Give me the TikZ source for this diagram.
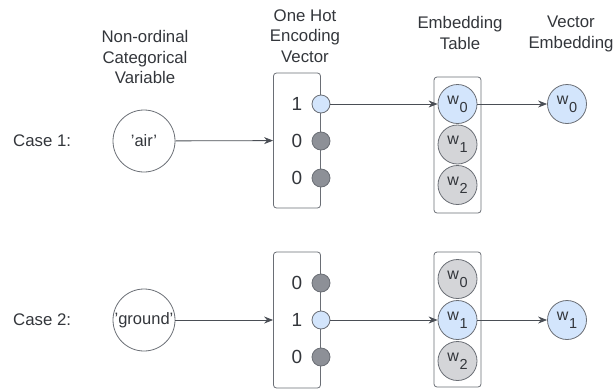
\documentclass[tikz,border=0pt]{standalone}
\usepackage{fontspec}
\setmainfont{Liberation Sans}
\usetikzlibrary{arrows.meta}
\definecolor{txt}{HTML}{33363B}
\definecolor{edge}{HTML}{6A6E75}
\definecolor{arr}{HTML}{4A4E55}
\definecolor{hot}{HTML}{D3E5FC}
\definecolor{dark}{HTML}{8D9097}
\definecolor{light}{HTML}{D4D5D8}
\newcommand\wsub[1]{w\kern0.5pt\raisebox{-8pt}{\fontsize{14.5}{14.5}\selectfont #1}}
\tikzset{
  lbl/.style={text=txt, font=\fontsize{16.8}{20.6}\selectfont, align=center, inner sep=0pt},
  catnode/.style={circle, draw=edge, line width=0.8pt, minimum size=62pt, inner sep=0pt, text=txt, font=\fontsize{16.5}{16.5}\selectfont},
  vecbox/.style={draw=edge, line width=0.8pt, rounded corners=3pt, minimum width=47pt, inner sep=0pt},
  hotdot/.style={circle, draw=edge, line width=0.8pt, minimum size=18pt, inner sep=0pt, fill=hot},
  colddot/.style={circle, draw=edge, line width=0.8pt, minimum size=18pt, inner sep=0pt, fill=dark},
  digit/.style={text=txt, font=\fontsize{19}{19}\selectfont, inner sep=0pt},
  wnode/.style={circle, draw=edge, line width=0.8pt, minimum size=39pt, inner sep=0pt, text=txt, font=\fontsize{16}{16}\selectfont},
  wsel/.style={wnode, fill=hot},
  wgray/.style={wnode, fill=light},
  conn/.style={draw=arr, line width=0.8pt, -{Stealth[length=9pt,width=7pt]}}
}
\begin{document}
\begin{tikzpicture}[x=1pt,y=-1pt]
\useasboundingbox (0,0) rectangle (613,389);
% headers
\node[lbl] (h1) at (145,57) {Non-ordinal\\Categorical\\Variable};
\node[lbl] (h2) at (305,36) {One Hot\\Encoding\\Vector};
\node[lbl] (h3) at (460,33) {Embedding\\Table};
\node[lbl] (h4) at (571,34) {Vector\\Embedding};
% case labels
\node[lbl, anchor=west] (c1) at (13,141) {Case 1:};
\node[lbl, anchor=west] (c2) at (13,320) {Case 2:};
% case 1
\node[catnode] (air) at (144,141) {'air'};
\node[vecbox, minimum height=135pt] (b1) at (297,140.5) {};
\node[hotdot] (b1a) at (321,104) {};
\node[colddot] (b1b) at (321,141) {};
\node[colddot] (b1c) at (321,178) {};
\node[digit] (d1a) at (297,104) {1};
\node[digit] (d1b) at (297,141) {0};
\node[digit] (d1c) at (297,178) {0};
\node[vecbox, minimum height=136pt] (e1) at (457.5,145) {};
\node[wsel] (e1a) at (457.5,104) {\wsub{0}};
\node[wgray] (e1b) at (457.5,144.5) {\wsub{1}};
\node[wgray] (e1c) at (457.5,185) {\wsub{2}};
\node[wsel] (v1) at (567,104) {\wsub{0}};
\draw[conn] (air) -- (b1);
\draw[conn] (b1a) -- (e1a);
\draw[conn] (e1a) -- (v1);
% case 2
\node[catnode] (ground) at (144,320) {'ground'};
\node[vecbox, minimum height=136pt] (b2) at (297,320) {};
\node[colddot] (b2a) at (321,283) {};
\node[hotdot] (b2b) at (321,320) {};
\node[colddot] (b2c) at (321,357) {};
\node[digit] (d2a) at (297,283) {0};
\node[digit] (d2b) at (297,320) {1};
\node[digit] (d2c) at (297,357) {0};
\node[vecbox, minimum height=135pt] (e2) at (457.5,319.5) {};
\node[wgray] (e2a) at (457.5,279) {\wsub{0}};
\node[wsel] (e2b) at (457.5,320) {\wsub{1}};
\node[wgray] (e2c) at (457.5,361) {\wsub{2}};
\node[wsel] (v2) at (567,320) {\wsub{1}};
\draw[conn] (ground) -- (b2);
\draw[conn] (b2b) -- (e2b);
\draw[conn] (e2b) -- (v2);
\end{tikzpicture}
\end{document}
